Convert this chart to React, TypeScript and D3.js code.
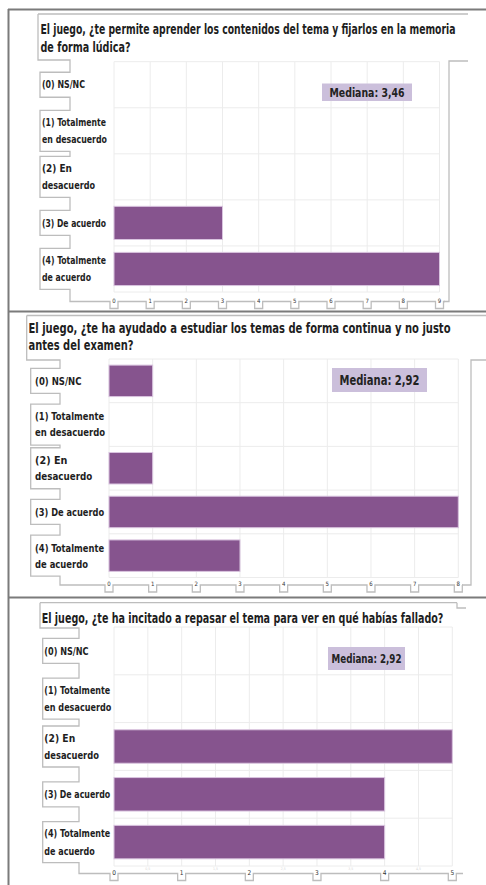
import React from "react";
import * as d3 from "d3";

const categoryLines: string[][] = [
  ["(0) NS/NC"],
  ["(1) Totalmente", "en desacuerdo"],
  ["(2) En", "desacuerdo"],
  ["(3) De acuerdo"],
  ["(4) Totalmente", "de acuerdo"],
];

const title1 = [
  "El juego, ¿te permite aprender los contenidos del tema y fijarlos en la memoria",
  "de forma lúdica?",
];
const title2 = [
  "El juego, ¿te ha ayudado a estudiar los temas de forma continua y no justo",
  "antes del examen?",
];
const title3 = ["El juego, ¿te ha incitado a repasar el tema para ver en qué habías fallado?"];

const values1 = [0, 0, 0, 3, 9];
const values2 = [1, 0, 1, 8, 3];
const values3 = [0, 0, 5, 4, 4];

const median1 = "Mediana: 3,46";
const median2 = "Mediana: 2,92";
const median3 = "Mediana: 2,92";

const ticks1 = [0, 1, 2, 3, 4, 5, 6, 7, 8, 9];
const ticks2 = [0, 1, 2, 3, 4, 5, 6, 7, 8];
const ticks3 = [0, 1, 2, 3, 4, 5];
const minorTicks3 = [0.5, 1.5, 2.5, 3.5, 4.5];

// rendered widths of the label lines (layout only)
const labelWidth: Record<string, number> = {
  "(0) NS/NC": 43,
  "(1) Totalmente": 64,
  "en desacuerdo": 65,
  "(2) En": 30,
  "desacuerdo": 53,
  "(3) De acuerdo": 64,
  "(4) Totalmente": 64,
  "de acuerdo": 49,
};

const FONT = '"Liberation Sans Narrow", "DejaVu Sans Condensed", "Roboto", sans-serif';
const BAR = "#86548e";
const MED = "#cbbfdb";
const FRAME = "#7b7b7b";
const LIGHT = "#bdbdbd";
const TITLE_SQUEEZE = 0.7;

type Layout = {
  titleLeft: number; titleTop: number; titleBottom: number; titleX: number;
  titleY: number[]; titleW: number[]; titleFont: number;
  labelLeft: number; labelX: number; connX: number; labelFont: number; lineGap: number; labelScale: number;
  x0: number; x1: number; y0: number; y1: number; pad: number;
  axisY: number; axisEnd: number; tickFont: number;
  med: { x: number; y: number; w: number; h: number; font: number; tw: number };
  bracket: [number, number][];
};

function Panel({ title, values, ticks, minor, median, layout }: {
  title: string[]; values: number[]; ticks: number[]; minor: number[]; median: string; layout: Layout;
}) {
  const L = layout;
  const xMax = ticks[ticks.length - 1];
  const x = d3.scaleLinear().domain([0, xMax]).range([L.x0, L.x1]);
  const y = d3.scaleBand<number>()
    .domain(d3.range(categoryLines.length))
    .range([L.y0, L.y1])
    .paddingInner(L.pad)
    .paddingOuter(L.pad / 2);
  const step = y.step();
  const gridX = [...ticks, ...minor];
  const hLines = d3.range(categoryLines.length + 1).map((i) => L.y0 + i * step);

  let p = `M${L.titleLeft},${L.titleTop}V${L.titleBottom}H${L.connX}`;
  categoryLines.forEach((lines, i) => {
    const c = (y(i) as number) + y.bandwidth() / 2;
    const h = lines.length === 1 ? 12.5 : 20.5;
    p += `V${c - h}H${L.labelLeft}V${c + h}H${L.connX}`;
  });
  p += `V${L.axisY}`;
  ticks.forEach((t) => {
    const tx = x(t);
    p += `H${tx - 4}V${L.axisY + 7}H${tx + 4}V${L.axisY}`;
  });
  p += `H${L.axisEnd}`;

  const line = d3.line();

  return (
    <g>
      {title.map((t, i) => (
        <g key={i} transform={`translate(${L.titleX},${L.titleY[i]}) scale(${TITLE_SQUEEZE},1)`}>
          <text x={0} y={0} dy="0.35em" fontFamily={FONT} fontWeight="bold"
            fontSize={L.titleFont} fill="#1e1e1e" textLength={L.titleW[i] / TITLE_SQUEEZE}
            lengthAdjust="spacingAndGlyphs">{t}</text>
        </g>
      ))}
      <g stroke="#ececec" strokeWidth={1}>
        {gridX.map((t) => (
          <line key={"v" + t} x1={x(t)} x2={x(t)} y1={L.y0} y2={L.y1} />
        ))}
        {hLines.map((hy, i) => (
          <line key={"h" + i} x1={L.x0} x2={L.x1} y1={hy} y2={hy} />
        ))}
      </g>
      {values.map((v, i) => v > 0 && (
        <rect key={i} x={x(0)} y={y(i)} width={x(v) - x(0)} height={y.bandwidth()}
          fill={BAR} stroke="#d9c4df" strokeWidth={1} />
      ))}
      <path d={p} fill="none" stroke={LIGHT} strokeWidth={1.3} />
      <path d={line(L.bracket) || ""} fill="none" stroke={LIGHT} strokeWidth={1.3} />
      {categoryLines.map((lines, i) => {
        const c = (y(i) as number) + y.bandwidth() / 2;
        const off = ((lines.length - 1) * L.lineGap) / 2;
        return lines.map((ln, j) => (
          <text key={i + "-" + j} x={L.labelX} y={c - off + j * L.lineGap} dy="0.35em"
            fontFamily={FONT} fontWeight="bold" fontSize={L.labelFont} fill="#1e1e1e"
            textLength={(labelWidth[ln] || 50) * L.labelScale} lengthAdjust="spacingAndGlyphs">{ln}</text>
        ));
      })}
      {ticks.map((t) => (
        <text key={"t" + t} x={x(t)} y={L.axisY + 1} textAnchor="middle" fontFamily={FONT}
          fontSize={L.tickFont} fill="#333">{t}</text>
      ))}
      {minor.map((t) => (
        <text key={"m" + t} x={x(t)} y={L.y1 + 4} textAnchor="middle" fontFamily={FONT}
          fontSize={3.5} fill="#d8d8d8">{String(t).replace(".", ",")}</text>
      ))}
      <rect x={L.med.x} y={L.med.y} width={L.med.w} height={L.med.h} fill={MED} />
      <text x={L.med.x + (L.med.w - L.med.tw) / 2} y={L.med.y + L.med.h / 2} dy="0.36em" fontFamily={FONT}
        fontWeight="bold" fontSize={L.med.font} fill="#222" textLength={L.med.tw}
        lengthAdjust="spacingAndGlyphs">{median}</text>
    </g>
  );
}

const layout1: Layout = {
  titleLeft: 38, titleTop: 14, titleBottom: 60, titleX: 40.5, titleY: [29.5, 47.5], titleW: [415, 90], titleFont: 13.5,
  labelLeft: 40, labelX: 42, connX: 70, labelFont: 10.5, lineGap: 16.5, labelScale: 1,
  x0: 114, x1: 439.5, y0: 61.7, y1: 292, pad: 0.28,
  axisY: 301.5, axisEnd: 445, tickFont: 6,
  med: { x: 322, y: 83.5, w: 90, h: 17.5, font: 13, tw: 75 },
  bracket: [[468, 61], [449, 61], [449, 301.5], [444, 301.5]],
};
const layout2: Layout = {
  titleLeft: 26.7, titleTop: 315.5, titleBottom: 360, titleX: 28.5, titleY: [328, 345], titleW: [422, 105], titleFont: 13.5,
  labelLeft: 30.7, labelX: 35, connX: 60, labelFont: 11, lineGap: 16, labelScale: 1.08,
  x0: 109, x1: 458.3, y0: 359, y1: 577.5, pad: 0.28,
  axisY: 585, axisEnd: 462, tickFont: 6,
  med: { x: 332, y: 368, w: 95, h: 24, font: 14.5, tw: 80 },
  bracket: [[486, 360], [471, 360], [471, 585], [462, 585]],
};
const layout3: Layout = {
  titleLeft: 40, titleTop: 602.7, titleBottom: 628, titleX: 41.7, titleY: [618], titleW: [401.7], titleFont: 13.5,
  labelLeft: 42.7, labelX: 44.3, connX: 79, labelFont: 11, lineGap: 17.5, labelScale: 1.03,
  x0: 114, x1: 452.3, y0: 627, y1: 866, pad: 0.3,
  axisY: 873.5, axisEnd: 463, tickFont: 6.5,
  med: { x: 328, y: 647, w: 77, h: 23, font: 12.5, tw: 70 },
  bracket: [[457, 602.7], [457, 608], [466, 608]],
};

export default function App() {
  return (
    <svg width={486} height={885} style={{ position: "absolute", left: 0, top: 0, background: "#fff" }}>
      <rect width={486} height={885} fill="#fff" />
      <g stroke={FRAME} strokeWidth={2}>
        <line x1={8.5} x2={8.5} y1={9} y2={885} />
        <line x1={8} x2={486} y1={9.5} y2={9.5} />
        <line x1={8} x2={486} y1={311.5} y2={311.5} />
        <line x1={8} x2={486} y1={597.5} y2={597.5} />
      </g>
      <g stroke={LIGHT} strokeWidth={1.3}>
        <line x1={38} x2={468} y1={14} y2={14} />
        <line x1={26.7} x2={486} y1={315.5} y2={315.5} />
        <line x1={40} x2={457} y1={602.7} y2={602.7} />
      </g>
      <Panel title={title1} values={values1} ticks={ticks1} minor={[]} median={median1} layout={layout1} />
      <Panel title={title2} values={values2} ticks={ticks2} minor={[]} median={median2} layout={layout2} />
      <Panel title={title3} values={values3} ticks={ticks3} minor={minorTicks3} median={median3} layout={layout3} />
    </svg>
  );
}
